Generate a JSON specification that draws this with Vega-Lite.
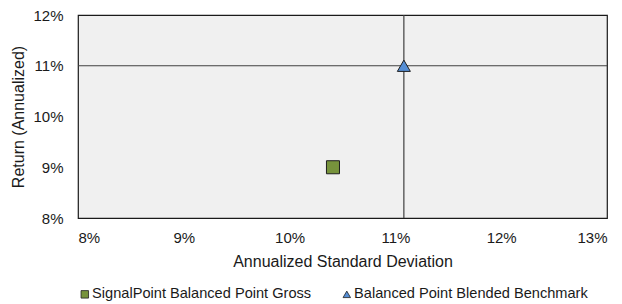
{
  "$schema": "https://vega.github.io/schema/vega-lite/v6.json",
  "width": 529,
  "height": 203,
  "autosize": {"type": "none"},
  "padding": {"left": 78, "top": 15, "right": 15, "bottom": 86},
  "background": "white",
  "config": {
    "font": "Liberation Sans",
    "view": {"fill": "#F0F0F0", "stroke": "#1a1a1a", "strokeWidth": 1.2},
    "axis": {
      "labelFont": "Liberation Sans", "labelFontSize": 15, "labelColor": "#1a1a1a",
      "titleFont": "Liberation Sans", "titleFontSize": 16, "titleFontWeight": "normal", "titleColor": "#1a1a1a",
      "domain": false, "ticks": false, "grid": false
    }
  },
  "data": {
    "values": [
      {"series": "SignalPoint Balanced Point Gross", "sd": 0.1041, "ret": 0.09},
      {"series": "Balanced Point Blended Benchmark", "sd": 0.1108, "ret": 0.11}
    ]
  },
  "layer": [
    {
      "transform": [{"filter": "datum.series === 'Balanced Point Blended Benchmark'"}],
      "mark": {"type": "rule", "color": "#404040", "strokeWidth": 1.2},
      "encoding": {"x": {"field": "sd", "type": "quantitative", "scale": {"domain": [0.08, 0.13]}}}
    },
    {
      "transform": [{"filter": "datum.series === 'Balanced Point Blended Benchmark'"}],
      "mark": {"type": "rule", "color": "#404040", "strokeWidth": 1.2},
      "encoding": {"y": {"field": "ret", "type": "quantitative", "scale": {"domain": [0.08, 0.12]}}}
    },
    {
      "mark": {"type": "point", "filled": true, "size": 170, "opacity": 1, "stroke": "#1f1f1f", "strokeWidth": 1},
      "encoding": {
        "x": {
          "field": "sd", "type": "quantitative",
          "scale": {"domain": [0.08, 0.13], "nice": false, "zero": false},
          "axis": {"format": ".0%", "values": [0.08, 0.09, 0.10, 0.11, 0.12, 0.13], "labelPadding": 12, "titlePadding": 8},
          "title": "Annualized Standard Deviation"
        },
        "y": {
          "field": "ret", "type": "quantitative",
          "scale": {"domain": [0.08, 0.12], "nice": false, "zero": false},
          "axis": {"format": ".0%", "values": [0.08, 0.09, 0.10, 0.11, 0.12], "labelPadding": 15, "titlePadding": 6},
          "title": "Return (Annualized)"
        },
        "shape": {
          "field": "series", "type": "nominal",
          "scale": {"domain": ["SignalPoint Balanced Point Gross", "Balanced Point Blended Benchmark"], "range": ["square", "triangle-up"]}
        },
        "color": {
          "field": "series", "type": "nominal",
          "scale": {"domain": ["SignalPoint Balanced Point Gross", "Balanced Point Blended Benchmark"], "range": ["#77933C", "#558ED5"]},
          "legend": {
            "title": null, "orient": "none", "direction": "horizontal",
            "legendX": -0.5, "legendY": 272, "padding": 0,
            "labelFont": "Liberation Sans", "labelFontSize": 14.6, "labelColor": "#1a1a1a", "labelLimit": 0,
            "symbolSize": 56, "symbolStrokeColor": "#1f1f1f", "symbolStrokeWidth": 0.8,
            "labelOffset": 0, "columnPadding": 28
          }
        }
      }
    }
  ]
}
